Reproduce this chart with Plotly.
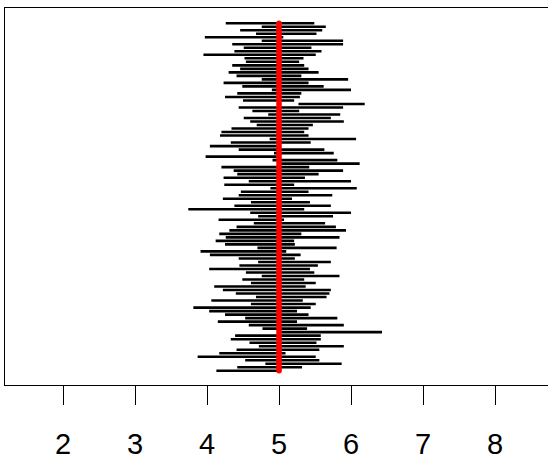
import plotly.graph_objects as go

# Confidence intervals for 100 samples, drawn top (sample 1) to bottom (sample 100)
lower = [4.26, 4.76, 4.46, 4.68, 3.97, 4.76, 4.35, 4.51, 4.38, 3.95,
         4.52, 4.54, 4.35, 4.46, 4.30, 4.41, 4.76, 4.23, 4.49, 4.90,
         4.42, 4.25, 4.50, 5.27, 4.44, 4.63, 4.85, 4.51, 4.60, 4.69,
         4.34, 4.20, 4.18, 4.87, 4.33, 4.04, 4.44, 4.93, 3.98, 4.91,
         5.01, 4.20, 4.37, 4.42, 4.23, 4.58, 4.24, 4.88, 4.47, 4.44,
         4.22, 4.61, 4.38, 3.74, 4.60, 4.71, 4.16, 4.65, 4.41, 4.31,
         4.17, 4.26, 4.12, 4.25, 4.70, 3.91, 4.04, 4.44, 4.71, 4.45,
         4.03, 4.54, 4.76, 4.49, 4.61, 4.10, 4.22, 4.40, 4.68, 4.06,
         4.61, 3.81, 4.03, 4.25, 4.53, 4.15, 4.58, 4.77, 5.03, 4.39,
         4.33, 4.59, 4.72, 4.41, 4.17, 3.87, 4.53, 4.81, 4.42, 4.13]
upper = [5.49, 5.65, 5.60, 5.52, 5.06, 5.89, 5.89, 5.45, 5.59, 5.51,
         5.34, 5.28, 5.35, 5.41, 5.55, 5.31, 5.96, 5.41, 5.62, 6.00,
         5.31, 5.29, 5.21, 6.19, 5.89, 5.28, 5.85, 5.72, 5.90, 5.47,
         5.41, 5.35, 5.41, 6.07, 5.44, 5.02, 5.63, 5.76, 4.97, 5.81,
         6.12, 5.42, 5.89, 5.55, 5.36, 6.00, 5.21, 6.08, 5.41, 5.74,
         5.18, 5.43, 5.72, 5.35, 6.00, 5.75, 5.07, 5.64, 5.79, 5.93,
         5.31, 5.84, 5.21, 5.22, 5.80, 5.10, 5.30, 5.22, 5.72, 5.54,
         5.43, 5.49, 5.84, 5.35, 5.51, 5.37, 5.72, 5.70, 5.66, 5.33,
         5.51, 5.44, 5.25, 5.41, 5.81, 5.25, 5.90, 5.39, 6.43, 5.58,
         5.58, 5.52, 5.90, 5.56, 5.09, 5.51, 5.56, 5.87, 5.32, 4.99]
true_mean = 5
tick_values = [2, 3, 4, 5, 6, 7, 8]

sample_ids = list(range(1, len(lower) + 1))

seg_x, seg_y = [], []
for lo, hi, s in zip(lower, upper, sample_ids):
    seg_x += [lo, hi, None]
    seg_y += [s, s, None]

fig = go.Figure()
fig.add_trace(go.Scatter(x=seg_x, y=seg_y, mode="lines",
                         line=dict(color="black", width=2.6),
                         hoverinfo="skip", showlegend=False))
# reference line at the true mean, with rounded ends
fig.add_trace(go.Scatter(x=[true_mean, true_mean],
                         y=[sample_ids[0], sample_ids[-1]],
                         mode="lines+markers",
                         line=dict(color="#ff0000", width=5.5),
                         marker=dict(color="#ff0000", size=5.5, symbol="circle",
                                     line=dict(width=0)),
                         hoverinfo="skip", showlegend=False))

fig.update_layout(
    width=548, height=460,
    margin=dict(l=5, r=0, t=8, b=73),
    paper_bgcolor="white", plot_bgcolor="white",
    font=dict(family="Liberation Sans, Arial, sans-serif", color="black"),
    xaxis=dict(range=[1.194, 8.736], tickvals=tick_values,
               ticks="outside", ticklen=19, tickwidth=1.3, tickcolor="black",
               tickfont=dict(size=29), ticklabelstandoff=14,
               showline=True, linecolor="black", linewidth=1.3, mirror=True,
               showgrid=False, zeroline=False),
    yaxis=dict(range=[104.05, -3.33], showticklabels=False, ticks="",
               showline=True, linecolor="black", linewidth=1.3,
               showgrid=False, zeroline=False),
)

fig.write_html("out.html")
